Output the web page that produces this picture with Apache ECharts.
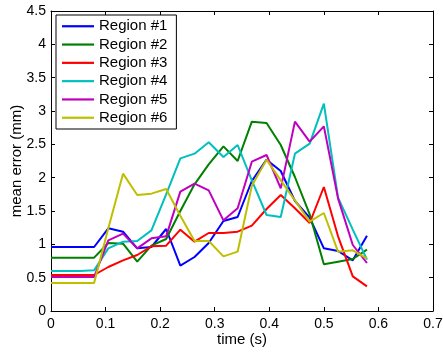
<!DOCTYPE html>
<html>
<head>
<meta charset="utf-8">
<script src="https://cdn.jsdelivr.net/npm/echarts@6/dist/echarts.min.js"></script>
<style>
html,body{margin:0;padding:0;background:#fff;}
#chart{width:443px;height:352px;}
</style>
</head>
<body>
<div id="chart"></div>
<script>
var time = [0, 0.026, 0.053, 0.079, 0.105, 0.132, 0.158, 0.184, 0.211, 0.237, 0.263, 0.289, 0.316, 0.342, 0.368, 0.395, 0.421, 0.447, 0.474, 0.5, 0.526, 0.553, 0.579];
var region1 = [0.96, 0.96, 0.96, 0.96, 1.24, 1.19, 0.94, 0.96, 1.23, 0.68, 0.81, 1.02, 1.35, 1.41, 1.95, 2.27, 2.10, 1.65, 1.40, 0.94, 0.90, 0.76, 1.13];
var region2 = [0.80, 0.80, 0.80, 0.80, 1.02, 1.01, 0.74, 0.98, 1.08, 1.50, 1.90, 2.20, 2.47, 2.25, 2.84, 2.82, 2.49, 2.01, 1.45, 0.70, 0.74, 0.78, 0.92];
var region3 = [0.54, 0.54, 0.54, 0.54, 0.66, 0.76, 0.84, 0.97, 0.98, 1.22, 1.04, 1.17, 1.17, 1.19, 1.28, 1.53, 1.74, 1.54, 1.32, 1.86, 1.12, 0.52, 0.37];
var region4 = [0.60, 0.60, 0.60, 0.61, 0.94, 1.04, 1.05, 1.21, 1.75, 2.29, 2.36, 2.53, 2.31, 2.49, 1.96, 1.44, 1.41, 2.36, 2.51, 3.11, 1.70, 1.22, 0.77];
var region5 = [0.51, 0.51, 0.51, 0.51, 1.06, 1.16, 0.94, 1.09, 1.12, 1.79, 1.91, 1.81, 1.36, 1.54, 2.24, 2.34, 1.84, 2.84, 2.54, 2.77, 1.69, 0.99, 0.72];
var region6 = [0.42, 0.42, 0.42, 0.42, 1.24, 2.06, 1.74, 1.76, 1.83, 1.43, 1.05, 1.05, 0.82, 0.89, 1.88, 2.27, 1.96, 1.66, 1.34, 1.47, 0.89, 0.91, 0.79];
var seriesNames = ['Region #1', 'Region #2', 'Region #3', 'Region #4', 'Region #5', 'Region #6'];
var seriesData = [region1, region2, region3, region4, region5, region6];
var colors = ['#0000ff', '#008000', '#ff0000', '#00bfbf', '#bf00bf', '#bfbf00'];

var FONT = "'Liberation Sans', Arial, Helvetica, sans-serif";

function pairs(ys) {
  return time.map(function (t, i) { return [t, ys[i]]; });
}

var series = seriesNames.map(function (name, i) {
  return {
    name: name,
    type: 'line',
    data: pairs(seriesData[i]),
    symbol: 'none',
    showSymbol: false,
    xAxisIndex: 0,
    yAxisIndex: 0,
    lineStyle: { color: colors[i], width: 2 },
    itemStyle: { color: colors[i] },
    animation: false
  };
});

var chart = echarts.init(document.getElementById('chart'), null, { renderer: 'canvas' });
chart.setOption({
  animation: false,
  backgroundColor: '#fff',
  color: colors,
  textStyle: { fontFamily: FONT },
  grid: { left: 51, right: 10, top: 11, bottom: 41, show: false, containLabel: false, outerBoundsMode: 'none' },
  legend: {
    left: 56,
    top: 15,
    orient: 'vertical',
    backgroundColor: '#fff',
    borderColor: '#000',
    borderWidth: 1,
    padding: [3.75, 9, 3.75, 6],
    icon: 'path://M0,0h32v2.2h-32z',
    itemWidth: 32,
    itemHeight: 14,
    itemGap: 3.3,
    textStyle: { fontSize: 15, color: '#000', fontFamily: FONT },
    data: seriesNames
  },
  xAxis: [
    {
      type: 'value', min: 0, max: 0.7, interval: 0.1, position: 'bottom',
      name: 'time (s)', nameLocation: 'middle', nameGap: 21, nameMoveOverlap: false,
      nameTextStyle: { fontSize: 15, color: '#000', fontFamily: FONT },
      axisLine: { show: true, onZero: false, lineStyle: { color: '#000', width: 1 } },
      axisTick: { show: true, inside: true, length: 4, lineStyle: { color: '#000' } },
      axisLabel: { fontSize: 14, color: '#000', margin: 6, fontFamily: FONT },
      splitLine: { show: false }
    },
    {
      type: 'value', min: 0, max: 0.7, interval: 0.1, position: 'top',
      axisLine: { show: true, onZero: false, lineStyle: { color: '#000', width: 1 } },
      axisTick: { show: true, inside: true, length: 4, lineStyle: { color: '#000' } },
      axisLabel: { show: false },
      splitLine: { show: false }
    }
  ],
  yAxis: [
    {
      type: 'value', min: 0, max: 4.5, interval: 0.5, position: 'left',
      name: 'mean error (mm)', nameLocation: 'middle', nameGap: 27, nameMoveOverlap: false,
      nameTextStyle: { fontSize: 15, color: '#000', fontFamily: FONT },
      axisLine: { show: true, onZero: false, lineStyle: { color: '#000', width: 1 } },
      axisTick: { show: true, inside: true, length: 4, lineStyle: { color: '#000' } },
      axisLabel: { fontSize: 14, color: '#000', margin: 5, fontFamily: FONT },
      splitLine: { show: false }
    },
    {
      type: 'value', min: 0, max: 4.5, interval: 0.5, position: 'right',
      axisLine: { show: true, onZero: false, lineStyle: { color: '#000', width: 1 } },
      axisTick: { show: true, inside: true, length: 4, lineStyle: { color: '#000' } },
      axisLabel: { show: false },
      splitLine: { show: false }
    }
  ],
  series: series
});
</script>
</body>
</html>
